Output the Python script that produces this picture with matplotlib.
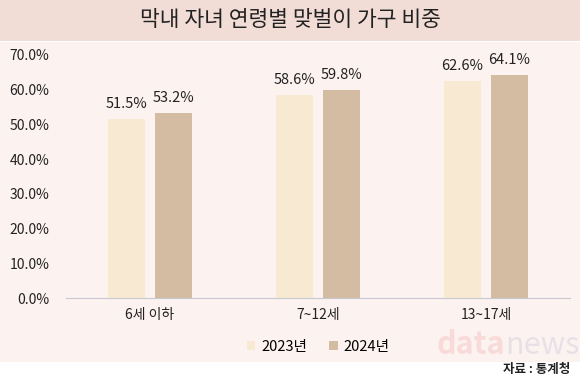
import numpy as np
import matplotlib.pyplot as plt
from matplotlib.patches import Rectangle

plt.rcParams['font.family'] = ['Noto Sans CJK KR', 'DejaVu Sans']

# data
categories = ['6세 이하', '7~12세', '13~17세']
years = ['2023년', '2024년']
v2023 = [51.5, 58.6, 62.6]
v2024 = [53.2, 59.8, 64.1]
colors = ['#f8ead2', '#d4bca2']

fig = plt.figure(figsize=(5.8, 3.9), dpi=100)
fig.patch.set_facecolor('white')

# background bands
fig.add_artist(Rectangle((0, 1 - 41/390), 1, 41/390, transform=fig.transFigure,
                         facecolor='#f2ddd6', edgecolor='none', zorder=0))
fig.add_artist(Rectangle((0, 1 - 362/390), 1, (362 - 42)/390, transform=fig.transFigure,
                         facecolor='#fcf2f0', edgecolor='none', zorder=0))
fig.text(0.5, 1 - 20/390, '막내 자녀 연령별 맞벌이 가구 비중', ha='center', va='center',
         fontsize=15.5, color='#222222', fontweight='medium')

ax = fig.add_axes([66/580, 1 - 298/390, (570 - 66)/580, (298 - 55)/390])
ax.set_facecolor('none')

x = np.arange(len(categories))
w = 0.225
off = 0.14
b1 = ax.bar(x - off, v2023, w, color=colors[0], label=years[0])
b2 = ax.bar(x + off, v2024, w, color=colors[1], label=years[1])
for bars, vals in ((b1, v2023), (b2, v2024)):
    for r, v in zip(bars, vals):
        ax.text(r.get_x() + r.get_width() / 2, v + 2.3, f'{v:.1f}%', ha='center', va='bottom',
                fontsize=10.5, color='#222222', fontweight='medium')

ax.set_ylim(0, 70)
ax.set_xlim(-0.5, 2.5)
ax.set_yticks(np.arange(0, 71, 10))
ax.set_yticklabels([f'{t:.1f}%' for t in range(0, 71, 10)], fontsize=10,
                   color='#222222', fontweight='medium')
ax.set_xticks(x)
ax.set_xticklabels(categories, fontsize=10, color='#222222', fontweight='medium')
ax.tick_params(length=0)
ax.tick_params(axis='y', pad=12)
ax.tick_params(axis='x', pad=7)
for s in ['top', 'right', 'left']:
    ax.spines[s].set_visible(False)
ax.spines['bottom'].set_color('#c8c8d0')

leg = ax.legend(loc='center', bbox_to_anchor=(0.5, -0.2), ncol=2, frameon=False,
                fontsize=10.5, handlelength=0.6, handleheight=0.6, columnspacing=1.5,
                handletextpad=0.4)
for t in leg.get_texts():
    t.set_fontweight('medium')

# watermark + source
fig.text(1 - 75/580, 1 - 345/390, 'data', ha='right', va='center', fontsize=22,
         color='#e03030', alpha=0.12, fontweight='bold')
fig.text(1 - 75/580, 1 - 345/390, 'news', ha='left', va='center', fontsize=22,
         color='#3050a0', alpha=0.1)
fig.text(1 - 10/580, 1 - 370/390, '자료 : 통계청', ha='right', va='center', fontsize=9,
         fontweight='bold', color='#222222')

fig.savefig('out.png', dpi=100, facecolor=fig.get_facecolor())
